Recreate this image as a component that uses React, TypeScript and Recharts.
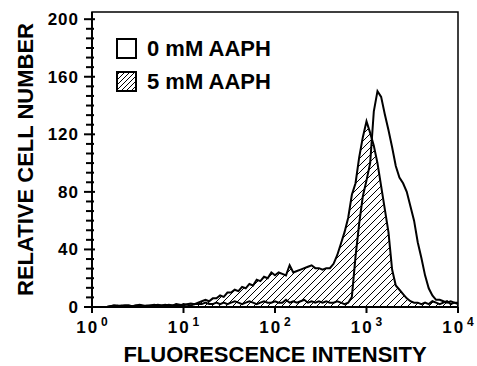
import { ComposedChart, Area, Line, Scatter, XAxis, YAxis, Legend, ReferenceArea } from 'recharts';

const FONT = '"Liberation Sans", Arial, Helvetica, sans-serif';

// log10 of fluorescence intensity, one entry per histogram channel
const LOG_INTENSITY = [
  0.0, 0.04, 0.08, 0.12, 0.16, 0.2, 0.24, 0.28, 0.32, 0.36,
  0.4, 0.44, 0.48, 0.52, 0.56, 0.6, 0.64, 0.68, 0.72, 0.76,
  0.8, 0.84, 0.88, 0.92, 0.96, 1.0, 1.04, 1.08, 1.12, 1.16,
  1.2, 1.24, 1.28, 1.32, 1.36, 1.4, 1.44, 1.48, 1.52, 1.56,
  1.6, 1.64, 1.68, 1.72, 1.76, 1.8, 1.84, 1.88, 1.92, 1.96,
  2.0, 2.04, 2.08, 2.12, 2.16, 2.2, 2.24, 2.28, 2.32, 2.36,
  2.4, 2.44, 2.48, 2.52, 2.56, 2.6, 2.64, 2.68, 2.72, 2.76,
  2.8, 2.84, 2.88, 2.92, 2.96, 3.0, 3.04, 3.08, 3.12, 3.16,
  3.2, 3.24, 3.28, 3.32, 3.36, 3.4, 3.44, 3.48, 3.52, 3.56,
  3.6, 3.64, 3.68, 3.72, 3.76, 3.8, 3.84, 3.88, 3.92, 3.96,
  4.0,
];

// relative cell number, 0 mM AAPH (open histogram)
const AAPH_0 = [
  0, 0, 0, 0, 0, 0.5, 1, 0.5, 1, 1,
  1, 0.5, 1, 1, 0.5, 1, 1, 1.5, 1, 1,
  1.5, 1, 1, 1.5, 1, 2, 1.5, 1, 2, 2,
  2, 3, 2, 2, 3, 2, 3, 2, 3, 4,
  3, 2, 3, 4, 3, 2, 3, 4, 3, 3,
  4, 3, 3, 5, 3, 4, 3, 4, 5, 3,
  4, 3, 4, 3, 4, 3, 3, 4, 3, 2,
  3, 7, 35, 58, 77, 88, 100, 136, 150, 146,
  134, 123, 111, 98, 90, 86, 80, 70, 60, 45,
  34, 22, 13, 8, 5, 5, 4, 3, 4, 3,
  2,
];

// relative cell number, 5 mM AAPH (hatched histogram)
const AAPH_5 = [
  0, 0, 0, 0, 0, 0.5, 1, 1, 0.5, 1,
  1, 0.5, 1, 1.5, 1, 0.5, 1, 1, 1.5, 1,
  1, 1.5, 1, 2, 1.5, 1, 2, 2.5, 2, 3,
  4, 5, 4, 6, 6, 8, 7, 10, 10, 12,
  11, 14, 13, 16, 15, 19, 18, 21, 20, 24,
  22, 24, 23, 22, 29, 24, 25, 26, 27, 28,
  29, 27, 27, 26, 27, 27, 30, 36, 44, 52,
  62, 78, 86, 104, 118, 129, 121, 112, 100, 84,
  68, 52, 26, 15, 12, 9, 6, 4, 3, 3,
  2, 3, 2, 4, 3, 2, 3, 4, 2, 3,
  3,
];

const X_TICKS = [0, 1, 2, 3, 4];
const Y_MAJOR = [0, 40, 80, 120, 160, 200];
const Y_MINOR = [
  6.67, 13.33, 20, 26.67, 33.33,
  46.67, 53.33, 60, 66.67, 73.33,
  86.67, 93.33, 100, 106.67, 113.33,
  126.67, 133.33, 140, 146.67, 153.33,
  166.67, 173.33, 180, 186.67, 193.33,
];
const Y_MAX = 205;

const LEGEND_LABELS = ['0 mM AAPH', '5 mM AAPH'];

const data = LOG_INTENSITY.map((x, i) => ({ logI: x, a0: AAPH_0[i], a5: AAPH_5[i] }));
// minor ticks sit on the y axis (x = 10^0)
const minorTicks = Y_MINOR.map((v) => ({ logI: 0, tick: v }));

function YTick(props: any) {
  const { x, y, payload } = props;
  return (
    <g>
      <line x1={x - 8} x2={x + 3} y1={y} y2={y} stroke="#000" strokeWidth={2} />
      <text
        x={x - 13}
        y={y + 6}
        textAnchor="end"
        fontFamily={FONT}
        fontWeight={700}
        fontSize={17}
        letterSpacing={1}
        fill="#000"
      >
        {payload.value}
      </text>
    </g>
  );
}

function MinorTickShape(props: any) {
  const { cx, cy } = props;
  return <line x1={cx - 6} x2={cx + 2} y1={cy} y2={cy} stroke="#000" strokeWidth={2} />;
}

function XTick(props: any) {
  const { x, y, payload } = props;
  return (
    <g>
      <line x1={x} x2={x} y1={y} y2={y + 6} stroke="#000" strokeWidth={2} />
      <text
        x={x}
        y={y + 26}
        textAnchor="middle"
        fontFamily={FONT}
        fontWeight={700}
        fontSize={17}
        fill="#000"
      >
        <tspan letterSpacing={2}>10</tspan>
        <tspan dx={2} dy={-7} fontSize={12}>
          {payload.value}
        </tspan>
      </text>
    </g>
  );
}

function XTitle(props: any) {
  const { viewBox } = props;
  return (
    <text
      x={viewBox.x + viewBox.width / 2}
      y={viewBox.y + 55}
      textAnchor="middle"
      fontFamily={FONT}
      fontWeight={700}
      fontSize={22}
      fill="#000"
    >
      FLUORESCENCE INTENSITY
    </text>
  );
}

function YTitle(props: any) {
  const { viewBox } = props;
  const cx = 33;
  const cy = viewBox.y + viewBox.height / 2;
  return (
    <text
      x={cx}
      y={cy}
      transform={`rotate(-90, ${cx}, ${cy})`}
      textAnchor="middle"
      fontFamily={FONT}
      fontWeight={700}
      fontSize={22}
      fill="#000"
    >
      RELATIVE CELL NUMBER
    </text>
  );
}

function LegendBox() {
  return (
    <div style={{ fontFamily: FONT, fontWeight: 700, fontSize: 22, lineHeight: '33px', color: '#000' }}>
      {LEGEND_LABELS.map((label, i) => (
        <div key={label} style={{ display: 'flex', alignItems: 'center' }}>
          <svg width={21} height={21} style={{ display: 'block' }}>
            <defs>
              <pattern id="legHatch" width={5} height={5} patternUnits="userSpaceOnUse">
                <path d="M-1,1 l2,-2 M0,5 l5,-5 M4,6 l2,-2" stroke="#000" strokeWidth={1} />
              </pattern>
            </defs>
            <rect
              x={1}
              y={1}
              width={19}
              height={19}
              fill={i === 1 ? 'url(#legHatch)' : '#fff'}
              stroke="#000"
              strokeWidth={2}
            />
          </svg>
          <span style={{ marginLeft: 10 }}>{label}</span>
        </div>
      ))}
    </div>
  );
}

export default function App() {
  return (
    <div style={{ position: 'absolute', left: 0, top: 0, width: 477, height: 366, background: '#fff' }}>
      <ComposedChart width={477} height={366} data={data} margin={{ top: 12, right: 19, left: 0, bottom: 0 }}>
        <defs>
          <pattern id="hatch" width={7} height={7} patternUnits="userSpaceOnUse">
            <path d="M-1,1 l2,-2 M0,7 l7,-7 M6,8 l2,-2" stroke="#000" strokeWidth={1} />
          </pattern>
        </defs>
        <XAxis
          dataKey="logI"
          type="number"
          domain={[0, 4]}
          ticks={X_TICKS}
          interval={0}
          height={59}
          tickLine={false}
          tickSize={0}
          tickMargin={0}
          tick={<XTick />}
          axisLine={{ stroke: '#000', strokeWidth: 2 }}
          label={(p: any) => <XTitle {...p} />}
        />
        <YAxis
          type="number"
          domain={[0, Y_MAX]}
          ticks={Y_MAJOR}
          interval={0}
          width={92}
          tickLine={false}
          tickSize={0}
          tickMargin={0}
          tick={<YTick />}
          axisLine={{ stroke: '#000', strokeWidth: 2 }}
          label={(p: any) => <YTitle {...p} />}
        />
        <ReferenceArea
          x1={0}
          x2={4}
          y1={0}
          y2={Y_MAX}
          fill="none"
          stroke="#000"
          strokeWidth={1.5}
          ifOverflow="visible"
        />
        <Area
          type="linear"
          dataKey="a5"
          name="5 mM AAPH"
          stroke="#000"
          strokeWidth={2}
          fill="url(#hatch)"
          fillOpacity={1}
          isAnimationActive={false}
        />
        <Line
          type="linear"
          dataKey="a0"
          name="0 mM AAPH"
          stroke="#000"
          strokeWidth={2}
          dot={false}
          isAnimationActive={false}
        />
        <Scatter
          data={minorTicks}
          dataKey="tick"
          legendType="none"
          shape={<MinorTickShape />}
          isAnimationActive={false}
        />
        <Legend
          layout="vertical"
          align="center"
          verticalAlign="middle"
          content={() => <LegendBox />}
          wrapperStyle={{ left: 116, top: 32, width: 'auto' }}
        />
      </ComposedChart>
    </div>
  );
}
